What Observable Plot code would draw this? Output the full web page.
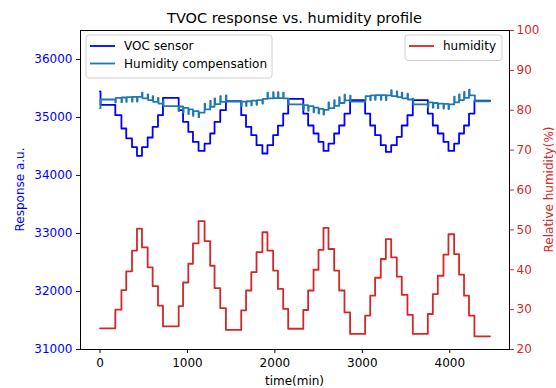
<!DOCTYPE html>
<html>
<head>
<meta charset="utf-8">
<script src="https://cdn.jsdelivr.net/npm/d3@7"></script>
<script src="https://cdn.jsdelivr.net/npm/@observablehq/plot@0.6"></script>
<style>
  html, body { margin: 0; padding: 0; background: #fff; }
  #chart { width: 556px; height: 388px; }
</style>
</head>
<body>
<div id="chart"></div>
<script>
// ---------- data ----------
const title = "TVOC response vs. humidity profile";
const xLabel = "time(min)";
const yLeftLabel = "Response a.u.";
const yRightLabel = "Relative humidity(%)";
const seriesNames = ["VOC sensor", "Humidity compensation", "humidity"];

const xTicks = [0, 1000, 2000, 3000, 4000];
const yLeftTicks = [31000, 32000, 33000, 34000, 35000, 36000];
const yRightTicks = [20, 30, 40, 50, 60, 70, 80, 90, 100];

// start time (min) of each humidity step
const segStart = [0,175,245,300,366,423,480,545,602,663,
  720,900,950,1010,1063,1127,1196,1260,1310,1375,
  1440,1615,1670,1730,1790,1857,1915,1980,2035,2095,
  2152,2325,2380,2442,2499,2556,2613,2678,2735,2796,
  2860,3032,3090,3146,3211,3269,3330,3394,3451,3516,
  3577,3749,3806,3863,3928,3985,4050,4106,4163,4220,
  4282];
const tEnd = 4460;

// relative humidity (%) on each step
const humidity = [25.3,30.0,34.9,39.6,44.8,50.3,45.6,40.6,35.9,31.0,
  25.8,30.9,36.8,41.5,46.6,52.2,47.2,41.0,35.4,30.4,
  24.9,29.8,34.8,39.4,44.4,49.4,44.8,39.8,35.2,30.2,
  25.2,29.9,34.8,40.0,45.0,50.5,45.2,39.8,34.8,29.3,
  23.9,28.5,33.5,38.0,42.7,47.7,43.1,38.3,33.7,28.7,
  23.9,28.9,33.9,38.5,43.8,48.9,43.9,38.8,33.5,28.5,
  23.3];

// VOC sensor response on each step
const voc = [35217,35040,34810,34640,34490,34340,34490,34655,34840,35040,
  35340,35126,34924,34751,34579,34424,34551,34724,34924,35126,
  35280,35040,34838,34695,34522,34379,34522,34695,34860,35068,
  35320,35068,34862,34724,34579,34424,34551,34724,34862,35068,
  35300,35068,34862,34695,34522,34407,34522,34666,34862,35039,
  35300,35068,34862,34724,34579,34424,34551,34724,34862,35068,
  35290];

// humidity-compensated response on each step
const comp = [35310,35340,35345,35350,35355,35355,35330,35300,35270,35240,
  35195,35190,35165,35140,35110,35085,35140,35185,35230,35270,
  35280,35275,35280,35290,35300,35320,35330,35335,35335,35330,
  35225,35215,35195,35170,35150,35130,35160,35200,35250,35295,
  35275,35370,35380,35385,35385,35380,35370,35350,35330,35310,
  35225,35260,35250,35240,35235,35225,35260,35300,35340,35380,
  35280];

// short transient spike of the compensated signal at each step change
const compSpike = [0,-80,-80,-80,-80,-80,100,100,100,100,
  100,-80,-80,-80,-80,-80,100,100,100,100,
  100,-80,-80,-80,-80,-80,100,100,100,100,
  100,-80,-80,-80,-80,-80,100,100,100,100,
  100,-80,-80,-80,-80,-80,100,100,100,100,
  100,-80,-80,-80,-80,-80,100,100,100,100,
  100];

// start-up transients
const vocStart = 35448;
const compStart = 35160;

// ---------- build tables ----------
const BLUE = "#0000ff", STEEL = "#1f77b4", RED = "#d62728";
const toLeft = h => 31000 + (h - 20) / 80 * 5500;
const fromLeft = v => 20 + (v - 31000) / 5500 * 80;

const humRows = segStart.map((t, i) => ({t, v: toLeft(humidity[i])}));
humRows.push({t: tEnd, v: toLeft(humidity[humidity.length - 1])});

const vocRows = [{t: 0, v: vocStart}];
segStart.forEach((t, i) => vocRows.push({t: i === 0 ? 6 : t, v: voc[i]}));
vocRows.push({t: tEnd, v: voc[voc.length - 1]});

const eps = 6;
const compRows = [{t: 0, v: compStart}];
segStart.forEach((t, i) => {
  if (i === 0) { compRows.push({t: eps, v: comp[i]}); return; }
  compRows.push({t, v: comp[i] + compSpike[i]});
  compRows.push({t: t + eps, v: comp[i]});
});
compRows.push({t: tEnd, v: comp[comp.length - 1]});

const FONT = "DejaVu Sans, Liberation Sans, sans-serif";

const chart = Plot.plot({
  width: 556,
  height: 388,
  marginLeft: 80,
  marginRight: 47,
  marginTop: 30,
  marginBottom: 39,
  style: {fontFamily: FONT, fontSize: "12px", background: "#fff", color: "#000"},
  x: {domain: [-223, 4683]},
  y: {domain: [31000, 36500]},
  marks: [
    Plot.line(vocRows, {x: "t", y: "v", curve: "step-after", stroke: BLUE, strokeWidth: 1.8}),
    Plot.line(compRows, {x: "t", y: "v", curve: "step-after", stroke: STEEL, strokeWidth: 1.8}),
    Plot.line(humRows, {x: "t", y: "v", curve: "step-after", stroke: RED, strokeWidth: 1.8}),
    Plot.axisX(xTicks, {anchor: "bottom", tickSize: 4, tickPadding: 5, tickFormat: d => String(d), label: null, color: "#000", fontSize: 12}),
    Plot.axisY(yLeftTicks, {anchor: "left", tickSize: 4, tickPadding: 4, tickFormat: d => String(d), label: null, color: BLUE, fontSize: 12}),
    Plot.axisY(yRightTicks.map(toLeft), {anchor: "right", tickSize: 4, tickPadding: 3, tickFormat: d => String(Math.round(fromLeft(d))), label: null, color: RED, fontSize: 12}),
    Plot.frame({stroke: "#000", strokeWidth: 1})
  ]
});
document.getElementById("chart").appendChild(chart);

// ---------- title, axis labels, legends ----------
const svg = d3.select(chart);
const fl = 80, fr = 509, ft = 30, fb = 349;
const cx = (fl + fr) / 2, cy = (ft + fb) / 2;

svg.append("text").attr("x", cx).attr("y", 23).attr("text-anchor", "middle")
  .attr("font-family", FONT).attr("font-size", 14.5).attr("fill", "#000").text(title);
svg.append("text").attr("x", cx).attr("y", 385).attr("text-anchor", "middle")
  .attr("font-family", FONT).attr("font-size", 12).attr("fill", "#000").text(xLabel);
svg.append("text").attr("transform", `translate(24,${cy}) rotate(-90)`).attr("text-anchor", "middle")
  .attr("font-family", FONT).attr("font-size", 12).attr("fill", BLUE).text(yLeftLabel);
svg.append("text").attr("transform", `translate(553,${cy}) rotate(-90)`).attr("text-anchor", "middle")
  .attr("font-family", FONT).attr("font-size", 12).attr("fill", RED).text(yRightLabel);

function legend(x, y, w, items) {
  const g = svg.append("g");
  const h = 8 + items.length * 17.5;
  g.append("rect").attr("x", x).attr("y", y).attr("width", w).attr("height", h)
    .attr("rx", 3).attr("fill", "#fff").attr("fill-opacity", 0.8)
    .attr("stroke", "#d0d0d0").attr("stroke-width", 1);
  items.forEach((it, i) => {
    const yy = y + 11 + i * 17.5;
    g.append("line").attr("x1", x + 4).attr("x2", x + 29).attr("y1", yy).attr("y2", yy)
      .attr("stroke", it.color).attr("stroke-width", 1.8);
    g.append("text").attr("x", x + 38).attr("y", yy).attr("dy", "0.35em")
      .attr("text-anchor", "start")
      .attr("font-family", FONT).attr("font-size", 12).attr("fill", "#000").text(it.name);
  });
}
legend(86, 35, 186, [{name: seriesNames[0], color: BLUE}, {name: seriesNames[1], color: STEEL}]);
legend(405, 35, 97, [{name: seriesNames[2], color: RED}]);
</script>
</body>
</html>
